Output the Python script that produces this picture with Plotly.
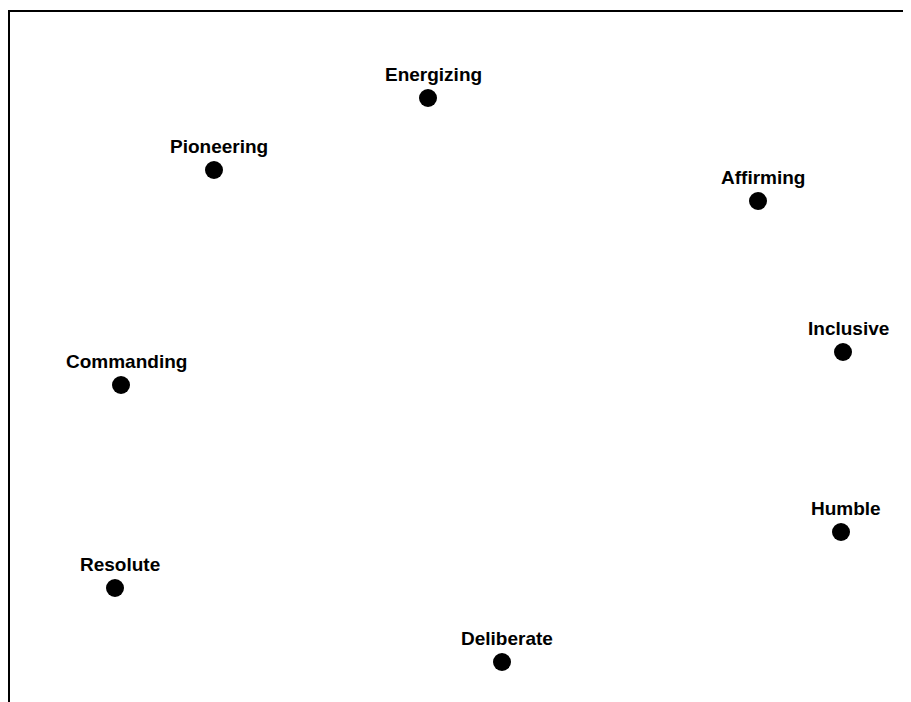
import plotly.graph_objects as go

labels = ["Energizing", "Pioneering", "Affirming", "Inclusive", "Commanding", "Humble", "Resolute", "Deliberate"]
x_vals = [428, 214, 758, 843, 121, 841, 115, 502]
y_vals = [98, 170, 201, 352, 385, 532, 588, 662]

fig = go.Figure()
fig.add_trace(go.Scatter(
    x=x_vals, y=y_vals, mode="markers",
    marker=dict(color="black", size=18, symbol="circle"),
    hoverinfo="text", text=labels,
))
for lx, ly, lt in zip(x_vals, y_vals, labels):
    fig.add_annotation(x=lx, y=ly, text="<b>" + lt + "</b>", showarrow=False,
                       xshift=5, yshift=24,
                       font=dict(family="Liberation Sans, Arial", size=19, color="black"))

fig.update_layout(
    width=903, height=694,
    margin=dict(l=2, t=4, r=0, b=0),
    paper_bgcolor="white", plot_bgcolor="white",
    showlegend=False,
    xaxis=dict(range=[10, 911], side="top", showline=True, linecolor="black", linewidth=2,
               showgrid=False, zeroline=False, showticklabels=False, ticks=""),
    yaxis=dict(range=[702, 12], showline=True, linecolor="black", linewidth=2,
               showgrid=False, zeroline=False, showticklabels=False, ticks=""),
)
fig.write_html("out.html")
